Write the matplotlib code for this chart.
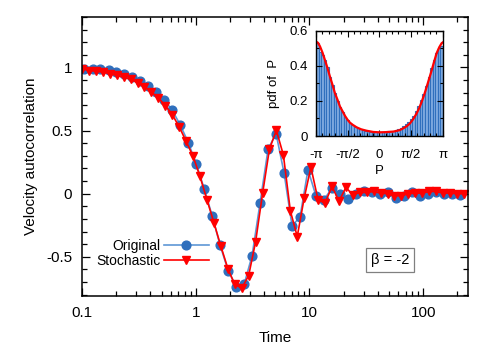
import numpy as np
import matplotlib
matplotlib.use("Agg")
import matplotlib.pyplot as plt
from matplotlib.ticker import FixedLocator, NullFormatter, MultipleLocator

plt.rcParams['font.family'] = ['Liberation Sans', 'DejaVu Sans']
plt.rcParams['axes.unicode_minus'] = False

# velocity autocorrelation, original model (circles)
t_orig = [0.105, 0.124, 0.145, 0.171, 0.201, 0.236, 0.277, 0.326, 0.383, 0.450,
          0.529, 0.622, 0.731, 0.860, 1.01, 1.19, 1.40, 1.64, 1.93, 2.27,
          2.67, 3.13, 3.68, 4.33, 5.09, 5.98, 7.03, 8.26, 9.71, 11.4,
          13.4, 15.8, 18.5, 21.8, 25.6, 30.1, 35.4, 41.6, 48.9, 57.4,
          67.5, 79.3, 93.2, 110, 129, 151, 178, 209]
c_orig = [0.99, 0.99, 0.985, 0.977, 0.968, 0.95, 0.927, 0.896, 0.857, 0.805,
          0.745, 0.66, 0.545, 0.405, 0.236, 0.037, -0.18, -0.41, -0.61, -0.735,
          -0.715, -0.49, -0.072, 0.355, 0.475, 0.165, -0.254, -0.185, 0.19, -0.016,
          -0.048, 0.045, 0.0, -0.042, 0.0, 0.018, 0.01, 0.0, 0.01, -0.034,
          -0.02, 0.01, -0.016, 0.0, 0.01, 0.0, 0.0, -0.008]

# stochastic model (triangles)
t_stoch = [0.1, 0.115, 0.133, 0.152, 0.175, 0.202, 0.232, 0.268, 0.308, 0.354,
           0.408, 0.469, 0.540, 0.622, 0.716, 0.824, 0.948, 1.09, 1.26, 1.45,
           1.66, 1.92, 2.20, 2.54, 2.92, 3.36, 3.87, 4.45, 5.12, 5.90,
           6.79, 7.81, 8.99, 10.3, 11.9, 13.7, 15.8, 18.2, 20.9, 24.0,
           27.7, 31.9, 36.7, 42.2, 48.6, 55.9, 64.3, 74.0, 85.2, 98.1,
           113, 130, 150, 172, 198, 228]
c_stoch = [0.99, 0.976, 0.971, 0.963, 0.952, 0.937, 0.923, 0.905, 0.879, 0.847,
           0.804, 0.76, 0.698, 0.627, 0.529, 0.415, 0.296, 0.137, -0.053, -0.234,
           -0.413, -0.595, -0.717, -0.748, -0.648, -0.381, 0.002, 0.355, 0.502, 0.306,
           -0.135, -0.339, -0.034, 0.21, -0.048, -0.074, 0.058, -0.06, 0.05, -0.008,
           0.01, 0.01, 0.018, 0.005, 0.0, -0.016, -0.016, 0.0, 0.005, 0.005,
           0.018, 0.018, 0.005, 0.005, 0.0, 0.0]

# inset: histogram of P and fitted pdf
hist_vals = [0.53, 0.475, 0.46, 0.43, 0.39, 0.335, 0.29, 0.245, 0.20, 0.165,
             0.135, 0.11, 0.09, 0.075, 0.062, 0.052, 0.045, 0.04, 0.035, 0.03,
             0.028, 0.025, 0.023, 0.022, 0.02, 0.021, 0.022, 0.024, 0.026, 0.028,
             0.031, 0.035, 0.04, 0.046, 0.055, 0.066, 0.08, 0.095, 0.115, 0.14,
             0.17, 0.205, 0.24, 0.285, 0.335, 0.385, 0.43, 0.47, 0.50, 0.51]
curve_p = [-3.14, -3.04, -2.94, -2.82, -2.70, -2.57, -2.45, -2.32, -2.20, -2.07,
           -1.95, -1.82, -1.70, -1.58, -1.46, -1.30, -1.12, -0.90, -0.63, -0.30,
           0.0, 0.30, 0.69, 1.0, 1.19, 1.36, 1.52, 1.69, 1.85, 1.98,
           2.10, 2.23, 2.35, 2.48, 2.60, 2.72, 2.84, 2.97, 3.09, 3.14]
curve_v = [0.537, 0.53, 0.509, 0.475, 0.433, 0.386, 0.338, 0.29, 0.243, 0.205,
           0.167, 0.14, 0.114, 0.093, 0.076, 0.062, 0.049, 0.038, 0.030, 0.023,
           0.021, 0.022, 0.025, 0.033, 0.044, 0.056, 0.072, 0.098, 0.129, 0.16,
           0.195, 0.237, 0.281, 0.33, 0.376, 0.425, 0.471, 0.505, 0.528, 0.532]

blue = '#2f6fbd'
blue_line = '#5f97d6'
red = '#ff0000'

fig = plt.figure(figsize=(4.98, 3.49), dpi=100)
ax = fig.add_axes([0.1647, 0.1519, 0.7751, 0.7994])

ax.plot(t_orig, c_orig, '-', color=blue_line, lw=1.2, marker='o', ms=6.3,
        mfc=blue, mec=blue, label='Original')
ax.plot(t_stoch, c_stoch, '-', color=red, lw=1.2, marker='v', ms=6.0,
        mfc=red, mec=red, label='Stochastic')

ax.set_xscale('log')
ax.set_xlim(0.1, 248)
ax.set_ylim(-0.81, 1.4)
ax.xaxis.set_major_locator(FixedLocator([0.1, 1, 10, 100]))
ax.set_xticklabels(['0.1', '1', '10', '100'])
minors = [m * 10.0 ** e for e in range(-1, 3) for m in range(2, 10)]
ax.xaxis.set_minor_locator(FixedLocator(minors))
ax.xaxis.set_minor_formatter(NullFormatter())
ax.set_yticks([-0.5, 0, 0.5, 1])
ax.set_yticklabels(['-0.5', '0', '0.5', '1'])
ax.yaxis.set_minor_locator(MultipleLocator(0.1))
ax.tick_params(which='both', direction='in', top=True, right=True, labelsize=11, width=0.9)
ax.tick_params(which='major', length=6, pad=7)
ax.tick_params(which='minor', length=3.5)
for s in ax.spines.values():
    s.set_linewidth(1.1)
ax.set_xlabel('Time', fontsize=11, labelpad=8)
ax.set_ylabel('Velocity autocorrelation', fontsize=11, labelpad=6)

ax.legend(loc='center', bbox_to_anchor=(0.182, 0.152), frameon=False, markerfirst=False,
          fontsize=10, handlelength=3.2, handletextpad=0.3, labelspacing=0.05)

ax.text(0.798, 0.128, 'β = -2', transform=ax.transAxes, ha='center', va='center', fontsize=10.5,
        bbox=dict(boxstyle='square,pad=0.35', fc='white', ec='#808080', lw=0.9))

# inset
ins = fig.add_axes([0.6345, 0.6103, 0.2545, 0.3023])
edges = np.linspace(-np.pi, np.pi, len(hist_vals) + 1)
ins.bar(edges[:-1], hist_vals, width=edges[1] - edges[0], align='edge',
        color='#80abe0', edgecolor=blue, lw=0.8)
ins.plot(curve_p, curve_v, color=red, lw=1.6)
ins.set_xlim(-np.pi, np.pi)
ins.set_ylim(0, 0.6)
ins.set_xticks([-np.pi, -np.pi / 2, 0, np.pi / 2, np.pi])
ins.set_xticklabels(['-π', '-π/2', '0', 'π/2', 'π'])
ins.xaxis.set_minor_locator(MultipleLocator(np.pi / 10))
ins.set_yticks([0, 0.2, 0.4, 0.6])
ins.set_yticklabels(['0', '0.2', '0.4', '0.6'])
ins.yaxis.set_minor_locator(MultipleLocator(0.1))
ins.tick_params(which='both', direction='in', top=True, right=True, labelsize=9.5, width=0.8)
ins.tick_params(which='major', length=4)
ins.tick_params(axis='x', which='major', pad=9)
ins.tick_params(axis='y', which='major', pad=6)
ins.tick_params(which='minor', length=2.5)
for s in ins.spines.values():
    s.set_linewidth(1.0)
ins.set_xlabel('P', fontsize=9.5, labelpad=3)
ins.set_ylabel('pdf of  P', fontsize=9.5, labelpad=7)

fig.savefig('out.png', dpi=100)
